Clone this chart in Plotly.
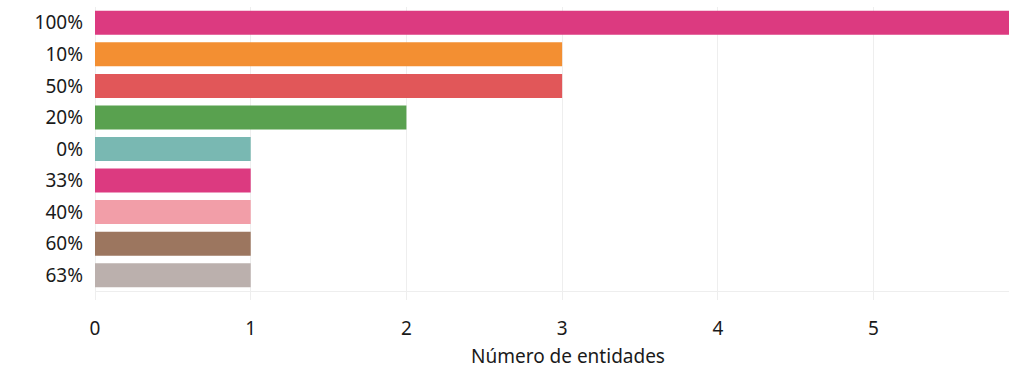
import plotly.graph_objects as go

# Categories (top to bottom) and entity counts
categories = ["100%", "10%", "50%", "20%", "0%", "33%", "40%", "60%", "63%"]
counts = [6, 3, 3, 2, 1, 1, 1, 1, 1]
colors = ["#DC3A80", "#F38F32", "#E15759", "#59A14F", "#79B8B2",
          "#DC3A80", "#F29EA8", "#9C765F", "#BBB0AD"]
x_ticks = [0, 1, 2, 3, 4, 5]

grid = "#EEEEEE"
font = "Noto Sans"
fsize = 19

fig = go.Figure(
    go.Bar(
        x=counts,
        y=categories,
        orientation="h",
        marker=dict(color=colors, line=dict(width=0)),
        hoverinfo="x+y",
    )
)

fig.update_layout(
    width=1009,
    height=369,
    margin=dict(l=95, r=0, t=7, b=78),
    paper_bgcolor="white",
    plot_bgcolor="white",
    bargap=0.24,
    showlegend=False,
    font=dict(family=font, size=fsize, color="#1a1a1a"),
    xaxis=dict(
        range=[0, 5.87],
        tickvals=x_ticks,
        showgrid=True,
        gridcolor=grid,
        gridwidth=1,
        zeroline=True,
        zerolinecolor=grid,
        zerolinewidth=1,
        showline=True,
        linecolor=grid,
        linewidth=1,
        ticks="outside",
        ticklen=8,
        tickcolor=grid,
        ticklabelstandoff=12,
        tickfont=dict(family=font, size=fsize, color="#1a1a1a"),
    ),
    yaxis=dict(
        categoryorder="array",
        categoryarray=categories[::-1],
        showgrid=False,
        zeroline=False,
        ticks="",
        ticklabelstandoff=11,
        tickfont=dict(family=font, size=fsize, color="#1a1a1a"),
    ),
    annotations=[
        dict(
            text="Número de entidades",
            xref="paper",
            yref="paper",
            x=(568 - 95) / (1009 - 95),
            y=-(356 - 291) / (291 - 7),
            xanchor="center",
            yanchor="middle",
            showarrow=False,
            font=dict(family=font, size=fsize, color="#1a1a1a"),
        )
    ],
)

fig.write_html("out.html")
